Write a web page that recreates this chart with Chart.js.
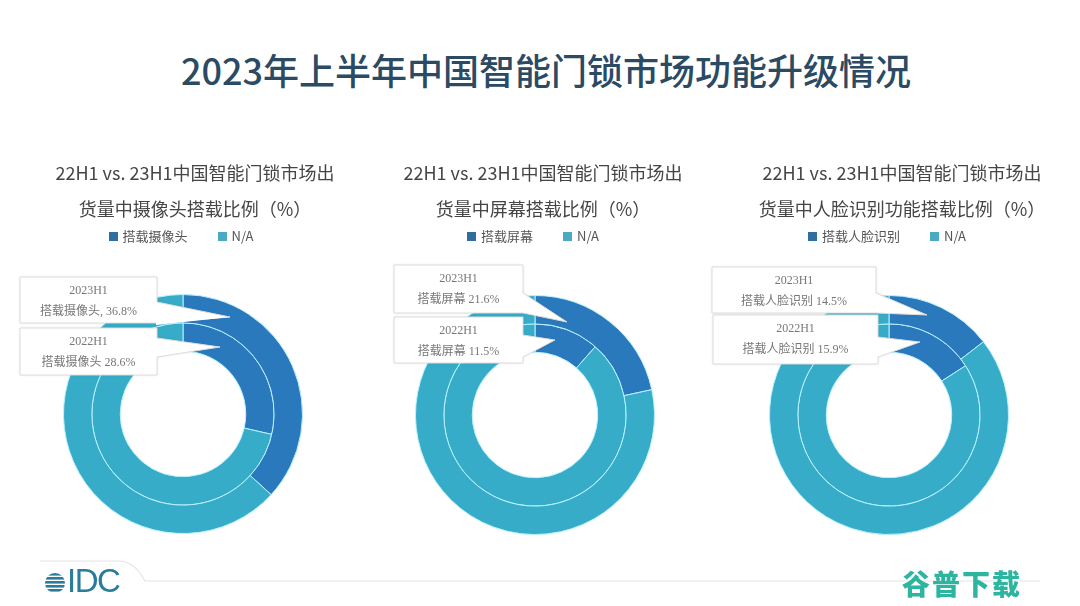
<!DOCTYPE html>
<html><head><meta charset="utf-8">
<script src="https://cdn.jsdelivr.net/npm/chart.js@4"></script>
<style>
html,body{margin:0;padding:0;background:#fff;}
#wrap{position:relative;width:1080px;height:606px;overflow:hidden;background:#fff;font-family:"Noto Sans CJK SC","Noto Sans",sans-serif;}
.title{position:absolute;left:6px;width:1080px;top:44px;text-align:center;font-size:36px;line-height:50px;color:#2b4a64;font-weight:500;}
.sub{position:absolute;width:400px;text-align:center;font-size:18px;color:#454545;line-height:36px;}
.leg{position:absolute;width:360px;text-align:center;font-size:13px;color:#555;top:226px;line-height:20px;white-space:nowrap;}
.leg span.sq{display:inline-block;width:9px;height:9px;margin-right:5px;vertical-align:0px;}
.leg span.it{margin:0 15px;}
canvas{position:absolute;top:0;}
.call{position:absolute;text-align:center;font-family:"Liberation Serif","Noto Sans CJK SC",serif;font-size:12px;color:#777;line-height:21px;}
.idc{position:absolute;left:67px;top:562px;font-family:"Liberation Sans",Arial,sans-serif;font-size:33px;color:#2a7c9c;letter-spacing:-1.5px;}
.wm{position:absolute;left:902px;top:563px;font-size:28px;font-weight:900;color:#2db5a0;letter-spacing:2px;}
</style></head>
<body><div id="wrap">
<div class="title">2023年上半年中国智能门锁市场功能升级情况</div>
<canvas id="deco" width="1080" height="606" style="left:0"></canvas>
</div>
<script>
const categories = ['搭载摄像头', '搭载屏幕', '搭载人脸识别'];
const subtitles = ['货量中摄像头搭载比例（%）', '货量中屏幕搭载比例（%）', '货量中人脸识别功能搭载比例（%）'];
const subtitleTop = '22H1 vs. 23H1中国智能门锁市场出';
const periods = ['2023H1', '2022H1'];
const share2023 = [36.8, 21.6, 14.5];
const share2022 = [28.6, 11.5, 15.9];
const labelText2023 = ['搭载摄像头, 36.8%', '搭载屏幕 21.6%', '搭载人脸识别 14.5%'];
const labelText2022 = ['搭载摄像头 28.6%', '搭载屏幕 11.5%', '搭载人脸识别 15.9%'];
const otherLabel = 'N/A';

// layout (positions only)
const centers = [[183, 414], [535, 415], [889, 415]];
const callouts = [
  [ {box:[-163,-137,137,46], base:[-112,-89], tip:[47,-97]},
    {box:[-163,-86,137,47], base:[-76,-57], tip:[37,-67]} ],
  [ {box:[-141,-150,129,48], base:[-122,-102], tip:[32,-93]},
    {box:[-141,-98,129,46], base:[-80,-58], tip:[20,-75]} ],
  [ {box:[-177,-148,164,46], base:[-122,-102], tip:[38,-100]},
    {box:[-176,-100,165,49], base:[-78,-58], tip:[31,-73]} ]
];
const DARK = '#2b79bd', LIGHT = '#37acc8', BORDER = '#b9f1ff';

const wrap = document.getElementById('wrap');
const subOffsets = [12, 8, 13];

const calloutPlugin = {
  id: 'callouts',
  afterDraw(chart) {
    const ctx = chart.ctx;
    const i = chart.options.plugins.callouts.idx;
    const cx = 180, cy = centers[i][1];
    callouts[i].forEach(c => {
      const [bx, by, bw, bh] = c.box;
      const x0 = cx + bx, y0 = cy + by, x1 = x0 + bw, y1 = y0 + bh;
      ctx.save();
      ctx.shadowColor = 'rgba(0,0,0,0.12)';
      ctx.shadowBlur = 3;
      ctx.fillStyle = '#fff';
      ctx.beginPath();
      ctx.moveTo(x0, y0);
      ctx.lineTo(x1, y0);
      ctx.lineTo(x1, cy + c.base[0]);
      ctx.lineTo(cx + c.tip[0], cy + c.tip[1]);
      ctx.lineTo(x1, Math.min(cy + c.base[1], y1));
      ctx.lineTo(x1, y1);
      ctx.lineTo(x0, y1);
      ctx.closePath();
      ctx.fill();
      ctx.shadowColor = 'transparent';
      ctx.strokeStyle = '#dcdcdc';
      ctx.lineWidth = 1;
      ctx.stroke();
      if (cy + c.base[1] > y1) {
        ctx.beginPath();
        ctx.moveTo(x1 - 1, y1 - 6);
        ctx.lineTo(cx + c.tip[0], cy + c.tip[1]);
        ctx.lineTo(x1 - 1, cy + c.base[1]);
        ctx.closePath();
        ctx.fill();
      }
      ctx.restore();
    });
  }
};

for (let i = 0; i < 3; i++) {
  const [cx, cy] = centers[i];
  const s1 = document.createElement('div');
  s1.className = 'sub'; s1.style.left = (cx + subOffsets[i] - 200) + 'px'; s1.style.top = '154px';
  s1.textContent = subtitleTop; wrap.appendChild(s1);
  const s2 = document.createElement('div');
  s2.className = 'sub'; s2.style.left = (cx + subOffsets[i] - 200) + 'px'; s2.style.top = '190px';
  s2.textContent = subtitles[i]; wrap.appendChild(s2);
  const lg = document.createElement('div');
  lg.className = 'leg'; lg.style.left = (cx - 182) + 'px';
  lg.innerHTML = '<span class="it"><span class="sq" style="background:#2e6f9f"></span>' + categories[i] +
    '</span><span class="it"><span class="sq" style="background:#4aaac2"></span>' + otherLabel + '</span>';
  wrap.appendChild(lg);
  const cv = document.createElement('canvas');
  cv.width = 360; cv.height = 606;
  cv.style.left = (cx - 180) + 'px';
  wrap.appendChild(cv);
  new Chart(cv, {
    type: 'doughnut',
    data: {
      labels: [categories[i], otherLabel],
      datasets: [
        { label: periods[0], data: [share2023[i], +(100 - share2023[i]).toFixed(1)],
          backgroundColor: [DARK, LIGHT], borderColor: BORDER, borderWidth: 1 },
        { label: periods[1], data: [share2022[i], +(100 - share2022[i]).toFixed(1)],
          backgroundColor: [DARK, LIGHT], borderColor: BORDER, borderWidth: 1 }
      ]
    },
    options: {
      responsive: false, animation: false, cutout: '52.5%',
      layout: { padding: { left: 60, right: 60, top: cy - 120, bottom: 606 - (cy + 120) } },
      plugins: { legend: { display: false }, tooltip: { enabled: false }, callouts: { idx: i } }
    },
    plugins: [calloutPlugin]
  });
  const texts = [[periods[0], labelText2023[i]], [periods[1], labelText2022[i]]];
  callouts[i].forEach((c, k) => {
    const d = document.createElement('div');
    d.className = 'call';
    d.style.left = (cx + c.box[0]) + 'px';
    d.style.top = (cy + c.box[1] + 3) + 'px';
    d.style.width = c.box[2] + 'px';
    d.innerHTML = texts[k][0] + '<br>' + texts[k][1];
    wrap.appendChild(d);
  });
}

const dctx = document.getElementById('deco').getContext('2d');
dctx.strokeStyle = '#e4e4e4'; dctx.lineWidth = 1.2;
dctx.beginPath();
dctx.moveTo(40, 561); dctx.lineTo(120, 561);
dctx.quadraticCurveTo(135, 562, 145, 581);
dctx.lineTo(1040, 581);
dctx.stroke();
dctx.save();
dctx.beginPath(); dctx.arc(55, 583, 10, 0, Math.PI * 2); dctx.clip();
dctx.fillStyle = '#2a7c9c';
for (let y = 573; y < 594; y += 4) { dctx.fillRect(44, y, 22, 2.6); }
dctx.restore();
const idc = document.createElement('div'); idc.className = 'idc'; idc.textContent = 'IDC'; wrap.appendChild(idc);
const wm = document.createElement('div'); wm.className = 'wm'; wm.textContent = '谷普下载'; wrap.appendChild(wm);
</script>
</body></html>
